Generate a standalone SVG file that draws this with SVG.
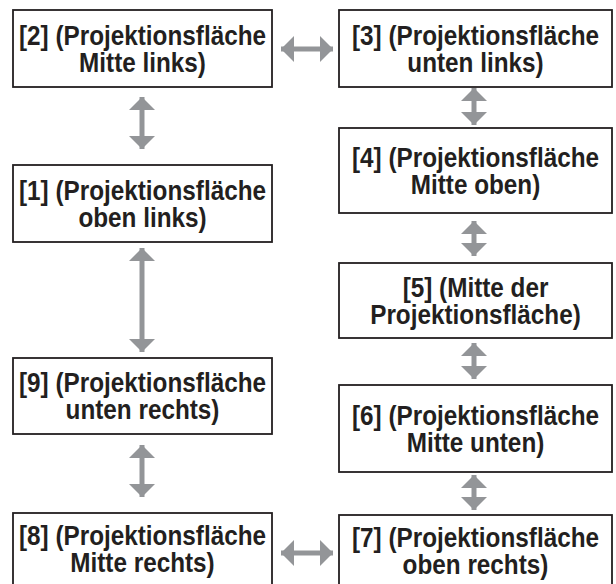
<svg xmlns="http://www.w3.org/2000/svg" width="616" height="584" viewBox="0 0 616 584">
<style>
.box{fill:#fff;stroke:#231f20;stroke-width:1.8}
.t{font-family:"Liberation Sans",Arial,sans-serif;font-weight:bold;font-size:27px;fill:#231f20;text-anchor:middle}
.c{stroke:#939598;stroke-width:5;fill:none;marker-start:url(#ah);marker-end:url(#ah)}
</style>
<defs>
<marker id="ah" markerUnits="userSpaceOnUse" markerWidth="14" markerHeight="26" refX="13" refY="13" orient="auto-start-reverse" viewBox="0 0 14 26">
<path d="M0,0 L13,13 L0,26 Z" fill="#939598"/>
</marker>
</defs>
<rect width="616" height="584" fill="#fff"/>
<g id="connectors">
<line class="c" x1="281" y1="49" x2="333" y2="49"/>
<line class="c" x1="142" y1="97" x2="142" y2="149"/>
<line class="c" x1="142" y1="248" x2="142" y2="352"/>
<line class="c" x1="142" y1="445" x2="142" y2="497"/>
<line class="c" x1="281" y1="553" x2="333" y2="553"/>
<line class="c" x1="474" y1="88" x2="474" y2="125"/>
<line class="c" x1="474" y1="221" x2="474" y2="256"/>
<line class="c" x1="474" y1="343" x2="474" y2="379"/>
<line class="c" x1="474" y1="475" x2="474" y2="510"/>
</g>
<g id="n2"><rect class="box" x="13" y="10" width="259" height="77"/><g transform="translate(142.5 0) scale(0.9 1)"><text class="t" x="0" y="44.6">[2] (Projektionsfläche</text><text class="t" x="0" y="71.6">Mitte links)</text></g></g>
<g id="n1"><rect class="box" x="13" y="165" width="259" height="77"/><g transform="translate(142.5 0) scale(0.9 1)"><text class="t" x="0" y="199.6">[1] (Projektionsfläche</text><text class="t" x="0" y="226.6">oben links)</text></g></g>
<g id="n9"><rect class="box" x="13" y="358" width="259" height="76"/><g transform="translate(142.5 0) scale(0.9 1)"><text class="t" x="0" y="392">[9] (Projektionsfläche</text><text class="t" x="0" y="419">unten rechts)</text></g></g>
<g id="n8"><rect class="box" x="13" y="513" width="259" height="90"/><g transform="translate(142.5 0) scale(0.9 1)"><text class="t" x="0" y="545">[8] (Projektionsfläche</text><text class="t" x="0" y="572">Mitte rechts)</text></g></g>
<g id="n3"><rect class="box" x="339" y="10" width="273" height="77"/><g transform="translate(475.5 0) scale(0.9 1)"><text class="t" x="0" y="44.6">[3] (Projektionsfläche</text><text class="t" x="0" y="71.6">unten links)</text></g></g>
<g id="n4"><rect class="box" x="339" y="128" width="273" height="85"/><g transform="translate(475.5 0) scale(0.9 1)"><text class="t" x="0" y="166.6">[4] (Projektionsfläche</text><text class="t" x="0" y="193.6">Mitte oben)</text></g></g>
<g id="n5"><rect class="box" x="339" y="263" width="273" height="75"/><g transform="translate(475.5 0) scale(0.9 1)"><text class="t" x="0" y="296.6">[5] (Mitte der</text><text class="t" x="0" y="323.6">Projektionsfläche)</text></g></g>
<g id="n6"><rect class="box" x="339" y="385" width="273" height="87"/><g transform="translate(475.5 0) scale(0.9 1)"><text class="t" x="0" y="424.6">[6] (Projektionsfläche</text><text class="t" x="0" y="451.6">Mitte unten)</text></g></g>
<g id="n7"><rect class="box" x="339" y="515" width="273" height="90"/><g transform="translate(475.5 0) scale(0.9 1)"><text class="t" x="0" y="547">[7] (Projektionsfläche</text><text class="t" x="0" y="574">oben rechts)</text></g></g>
</svg>
